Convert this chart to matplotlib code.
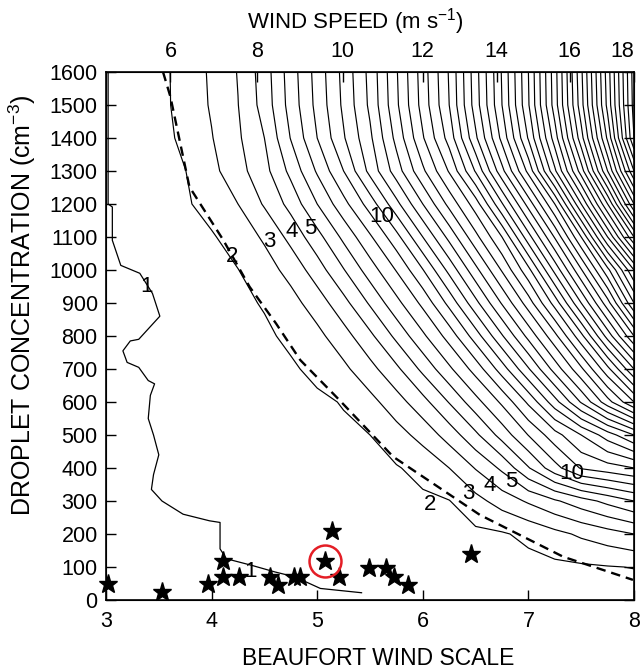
import numpy as np
import matplotlib.pyplot as plt

plt.rcParams['font.family'] = ['Liberation Sans', 'DejaVu Sans']
plt.rcParams['mathtext.fontset'] = 'custom'
plt.rcParams['mathtext.rm'] = 'Liberation Sans'

# grid of the contoured field (Beaufort number x droplet concentration)
beaufort = [3.0, 3.25, 3.5, 3.75, 4.0, 4.25, 4.5, 4.75, 5.0, 5.25, 5.5,
            5.75, 6.0, 6.25, 6.5, 6.75, 7.0, 7.25, 7.5, 7.75, 8.0]
conc = [0, 100, 200, 300, 400, 500, 600, 700, 800, 900, 1000,
        1100, 1200, 1300, 1400, 1500, 1600]

# field values, one row per concentration
field = [
    [0.25, 0.31, 0.37, 0.44, 0.50, 0.56, 0.62, 0.69, 0.75, 0.81, 0.88, 0.94, 1.00, 1.06, 1.12, 1.19, 1.25, 1.31, 1.38, 1.44, 1.50],
    [0.30, 0.39, 0.47, 0.56, 0.65, 0.73, 0.82, 0.91, 1.00, 1.08, 1.17, 1.26, 1.34, 1.43, 1.52, 1.60, 1.69, 1.78, 1.86, 1.95, 2.03],
    [0.35, 0.45, 0.56, 0.66, 0.76, 0.87, 0.97, 1.07, 1.18, 1.28, 1.38, 1.49, 1.59, 1.69, 1.80, 1.90, 2.23, 2.71, 3.17, 3.58, 4.00],
    [0.40, 0.52, 0.64, 0.76, 0.88, 1.00, 1.12, 1.24, 1.36, 1.48, 1.60, 1.72, 1.84, 1.97, 2.67, 3.43, 4.14, 4.86, 5.57, 6.29, 7.00],
    [0.45, 0.58, 0.72, 0.86, 1.00, 1.14, 1.28, 1.42, 1.56, 1.70, 1.84, 1.93, 2.29, 3.00, 4.06, 5.20, 6.92, 8.63, 10.1, 10.55, 11.0],
    [0.50, 0.65, 0.80, 0.95, 1.10, 1.25, 1.40, 1.55, 1.70, 1.85, 2.00, 2.60, 3.35, 4.43, 5.78, 7.40, 9.03, 10.6, 12.0, 13.5, 15.0],
    [0.55, 0.72, 0.88, 1.04, 1.20, 1.36, 1.52, 1.68, 1.84, 2.05, 2.69, 3.57, 4.65, 6.06, 7.63, 9.19, 11.2, 13.6, 16.1, 18.6, 21.0],
    [0.60, 0.80, 0.98, 1.16, 1.34, 1.52, 1.70, 1.88, 2.22, 2.78, 3.67, 4.78, 6.25, 7.80, 9.40, 11.5, 13.9, 16.4, 18.8, 21.7, 25.0],
    [0.65, 0.85, 1.05, 1.25, 1.45, 1.65, 1.85, 2.18, 2.73, 3.60, 4.77, 6.25, 7.80, 9.40, 11.5, 13.9, 16.3, 18.7, 21.7, 25.4, 29.0],
    [0.70, 0.95, 1.20, 1.40, 1.60, 1.80, 2.07, 2.65, 3.48, 4.67, 6.13, 7.69, 9.25, 11.3, 13.7, 16.1, 18.5, 21.4, 25.0, 28.6, 33.0],
    [0.75, 1.00, 1.25, 1.50, 1.75, 1.98, 2.57, 3.33, 4.52, 5.94, 7.50, 9.06, 10.95, 13.3, 15.7, 18.1, 20.7, 24.3, 27.9, 31.7, 36.0],
    [0.80, 1.10, 1.40, 1.65, 1.90, 2.44, 3.14, 4.30, 5.64, 7.24, 8.85, 10.65, 13.0, 15.3, 17.7, 20.0, 23.6, 27.1, 31.0, 36.0, 41.0],
    [0.85, 1.20, 1.55, 1.87, 2.38, 3.00, 4.11, 5.33, 7.00, 8.67, 10.45, 12.7, 15.0, 17.3, 19.5, 22.9, 26.4, 30.0, 35.0, 40.0, 46.0],
    [0.90, 1.25, 1.55, 1.98, 2.72, 3.63, 4.67, 6.27, 8.13, 10.0, 12.3, 14.5, 16.8, 19.1, 22.1, 25.7, 29.3, 33.8, 38.5, 44.0, 50.0],
    [0.95, 1.30, 1.62, 2.25, 2.95, 3.85, 5.00, 7.05, 9.00, 10.9, 12.8, 15.3, 17.9, 20.4, 23.8, 27.3, 31.1, 35.5, 40.6, 46.2, 53.0],
    [1.00, 1.38, 1.70, 2.37, 3.10, 3.98, 5.40, 7.40, 9.30, 11.2, 13.2, 15.8, 18.4, 21.0, 24.5, 28.0, 31.9, 36.5, 41.6, 47.3, 53.4],
    [1.00, 1.38, 1.70, 2.40, 3.15, 4.05, 5.50, 7.50, 9.40, 11.3, 13.3, 15.9, 18.5, 21.1, 24.6, 28.1, 32.0, 36.6, 41.8, 47.5, 53.5],
]

# the "1" line, traced by hand
line1_b = [3.02, 3.02, 3.06, 3.06, 3.14, 3.32, 3.44, 3.51, 3.31, 3.23, 3.16, 3.20, 3.31, 3.40,
           3.46, 3.42, 3.40, 3.45, 3.50, 3.45, 3.43, 3.53, 3.73, 3.98, 4.08, 4.08, 4.14, 4.38,
           4.60, 4.79, 5.03, 5.42]
line1_n = [1600, 1200, 1191, 1090, 1014, 990, 929, 860, 790, 785, 755, 720, 705, 665,
           655, 620, 550, 500, 440, 380, 335, 300, 260, 240, 235, 155, 125, 105,
           85, 70, 35, 22]

# dashed curve
dash_b = [3.54, 3.61, 3.79, 4.11, 4.36, 4.61, 4.84, 5.21, 5.72, 6.54, 7.33, 7.99]
dash_n = [1600, 1525, 1252, 1091, 949, 838, 727, 606, 434, 258, 131, 61]

# observations
star_b = [3.02, 3.53, 3.97, 4.11, 4.11, 4.26, 4.55, 4.63, 4.78, 4.84, 5.07, 5.14,
          5.21, 5.49, 5.65, 5.73, 5.86, 6.46]
star_n = [48, 25, 48, 118, 71, 71, 71, 45, 71, 71, 118, 209,
          71, 96, 96, 71, 45, 139]
circled = (5.07, 118)

# contour labels
label_text = ['1', '1', '2', '3', '4', '5', '10', '2', '3', '4', '5', '10']
label_b = [3.38, 4.37, 4.19, 4.55, 4.76, 4.93, 5.61, 6.07, 6.43, 6.63, 6.84, 7.41]
label_n = [949, 85, 1040, 1086, 1116, 1126, 1162, 288, 324, 348, 359, 384]

# wind speed axis (m/s) and where it sits on the Beaufort scale
speed_ticks = [6, 8, 10, 12, 14, 16, 18]
speed_on_beaufort = [3.61, 4.43, 5.24, 6.00, 6.70, 7.39, 8.0]

fig = plt.figure(figsize=(6.42, 6.71), dpi=100)
ax = fig.add_axes([106 / 642, 71 / 671, 528 / 642, 528 / 671])

ax.contour(beaufort, conc, np.array(field), levels=np.arange(2, 54),
           colors='black', linewidths=0.85)
ax.plot(line1_b, line1_n, color='black', lw=0.9)
ax.plot(dash_b, dash_n, color='black', lw=1.7, ls=(0, (4, 2.5)))
ax.plot(star_b, star_n, ls='none', marker='*', ms=14, color='black', clip_on=False, zorder=5)
ax.plot(*circled, ls='none', marker='o', ms=23, mfc='none', mec='#e41e26', mew=1.8, zorder=6)

for t, b, n in zip(label_text, label_b, label_n):
    ax.text(b, n, t, ha='center', va='center', fontsize=16)

ax.set_xlim(3, 8)
ax.set_ylim(0, 1600)
ax.set_xticks([3, 4, 5, 6, 7, 8])
ax.set_yticks(range(0, 1601, 100))
ax.tick_params(axis='both', direction='in', length=7, width=1, labelsize=15.5, pad=6)
ax.tick_params(axis='y', right=True)
ax.tick_params(axis='x', top=False, pad=8)
for s in ax.spines.values():
    s.set_linewidth(1.2)
ax.set_xlabel('BEAUFORT WIND SCALE', fontsize=16.5)
ax.xaxis.set_label_coords(0.515, -0.089)
ax.set_ylabel('DROPLET CONCENTRATION (cm$^{-3}$)', fontsize=18)
ax.yaxis.set_label_coords(-0.129, 0.559)

ax2 = ax.twiny()
ax2.set_xlim(3, 8)
ax2.set_xticks(speed_on_beaufort)
ax2.set_xticklabels([str(s) for s in speed_ticks])
ax2.tick_params(direction='in', length=7, width=1, labelsize=15.5, pad=7)
ax2.get_xticklabels()[-1].set_ha('right')
ax2.set_xlabel('WIND SPEED (m s$^{-1}$)', fontsize=16)
ax2.xaxis.set_label_coords(0.472, 1.083)

fig.savefig('out.png', dpi=100)
